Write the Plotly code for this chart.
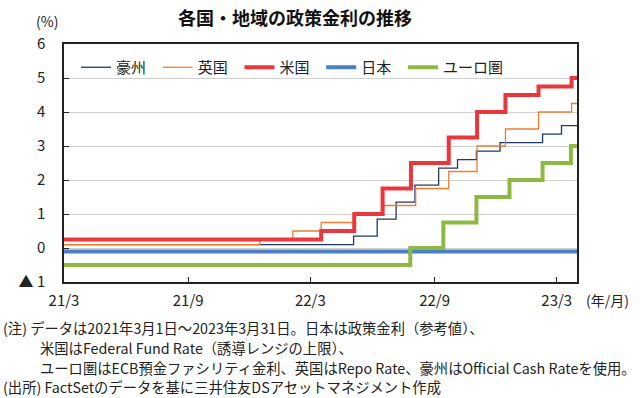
import plotly.graph_objects as go

END = "2023-03-31"

au_dates = ["2021-03-01", "2022-05-04", "2022-06-08", "2022-07-06", "2022-08-03", "2022-09-07",
            "2022-10-05", "2022-11-02", "2022-12-07", "2023-02-08", "2023-03-08", END]
au_vals = [0.10, 0.35, 0.85, 1.35, 1.85, 2.35, 2.60, 2.85, 3.10, 3.35, 3.60, 3.60]

uk_dates = ["2021-03-01", "2021-12-16", "2022-02-03", "2022-03-17", "2022-05-05", "2022-06-16",
            "2022-08-04", "2022-09-22", "2022-11-03", "2022-12-15", "2023-02-02", "2023-03-23", END]
uk_vals = [0.10, 0.25, 0.50, 0.75, 1.00, 1.25, 1.75, 2.25, 3.00, 3.50, 4.00, 4.25, 4.25]

us_dates = ["2021-03-01", "2022-03-17", "2022-05-05", "2022-06-16", "2022-07-28", "2022-09-22",
            "2022-11-03", "2022-12-15", "2023-02-02", "2023-03-23", END]
us_vals = [0.25, 0.50, 1.00, 1.75, 2.50, 3.25, 4.00, 4.50, 4.75, 5.00, 5.00]

jp_dates = ["2021-03-01", END]
jp_vals = [-0.10, -0.10]

eu_dates = ["2021-03-01", "2022-07-27", "2022-09-14", "2022-11-02", "2022-12-21", "2023-02-08",
            "2023-03-22", END]
eu_vals = [-0.50, 0.00, 0.75, 1.50, 2.00, 2.50, 3.00, 3.00]

x_tickvals = ["2021-03-01", "2021-09-01", "2022-03-01", "2022-09-01", "2023-03-01"]
x_ticktext = ["21/3", "21/9", "22/3", "22/9", "23/3"]
y_tickvals = [-1, 0, 1, 2, 3, 4, 5, 6]
y_ticktext = ["▲ 1", "0", "1", "2", "3", "4", "5", "6"]

FONT = "Noto Sans CJK JP"
PAD = "\u00a0\u00a0"

fig = go.Figure()
series = [
    ("豪州", au_dates, au_vals, "#203864", 1.3),
    ("英国", uk_dates, uk_vals, "#ED7D31", 1.3),
    ("米国", us_dates, us_vals, "#E8383D", 4),
    ("日本", jp_dates, jp_vals, "#4A7EC5", 4),
    ("ユーロ圏", eu_dates, eu_vals, "#8DB843", 4),
]
for name, xs, ys, col, w in series:
    fig.add_trace(go.Scatter(x=xs, y=ys, name=name + PAD, mode="lines",
                             line=dict(color=col, width=w, shape="hv")))

L, R, T, B = 64, 63, 44, 116
pw, ph = 640 - L - R, 398 - T - B


def px(xp):
    return (xp - L) / pw


def py(yp):
    return 1 - (yp - T) / ph


fig.update_layout(
    width=640, height=398,
    margin=dict(l=L, r=R, t=T, b=B),
    paper_bgcolor="white", plot_bgcolor="white",
    font=dict(family=FONT, color="#222", size=14),
    showlegend=True,
    legend=dict(orientation="h", x=px(76), y=py(51), xanchor="left", yanchor="top",
                font=dict(size=15, family=FONT),
                bgcolor="rgba(0,0,0,0)", tracegroupgap=0),
    xaxis=dict(type="date", range=["2021-03-01", END], tickvals=x_tickvals, ticktext=x_ticktext,
               ticks="inside", ticklen=5, tickcolor="#222", showgrid=False,
               showline=True, linecolor="#222", linewidth=1.5, mirror=True,
               tickfont=dict(size=15, family=FONT), ticklabelstandoff=4),
    yaxis=dict(range=[-1, 6], tickvals=y_tickvals, ticktext=y_ticktext,
               ticks="inside", ticklen=5, tickcolor="#222",
               showgrid=True, gridcolor="#D0D0D0", gridwidth=1, zeroline=False,
               showline=True, linecolor="#222", linewidth=1.5, mirror=True,
               tickfont=dict(size=15, family=FONT), ticklabelstandoff=14),
)

anns = [
    ("(%)", 47, 21, 14, "center"),
    ("(年/月)", 584, 300, 14, "left"),
    ("(注) データは2021年3月1日～2023年3月31日。日本は政策金利（参考値）、", 1, 327, 14.3, "left"),
    ("米国はFederal Fund Rate（誘導レンジの上限）、", 38, 347, 14.3, "left"),
    ("ユーロ圏はECB預金ファシリティ金利、英国はRepo Rate、豪州はOfficial Cash Rateを使用。", 38, 367, 14.3, "left"),
    ("(出所) FactSetのデータを基に三井住友DSアセットマネジメント作成", 1, 386, 14.3, "left"),
]

fig.add_annotation(text="<b>各国・地域の政策金利の推移</b>", x=px(295), y=py(17), xref="paper", yref="paper",
                   showarrow=False, font=dict(size=18, family=FONT, color="#111"),
                   xanchor="center", yanchor="middle")
for t, xx, yy, fs, anc in anns:
    fig.add_annotation(text=t, x=px(xx), y=py(yy), xref="paper", yref="paper", showarrow=False,
                       xanchor=anc, yanchor="middle", font=dict(size=fs, family=FONT, color="#222"))

fig.write_html("out.html", config={"displayModeBar": False},
               post_script="document.body.style.margin='0';")
